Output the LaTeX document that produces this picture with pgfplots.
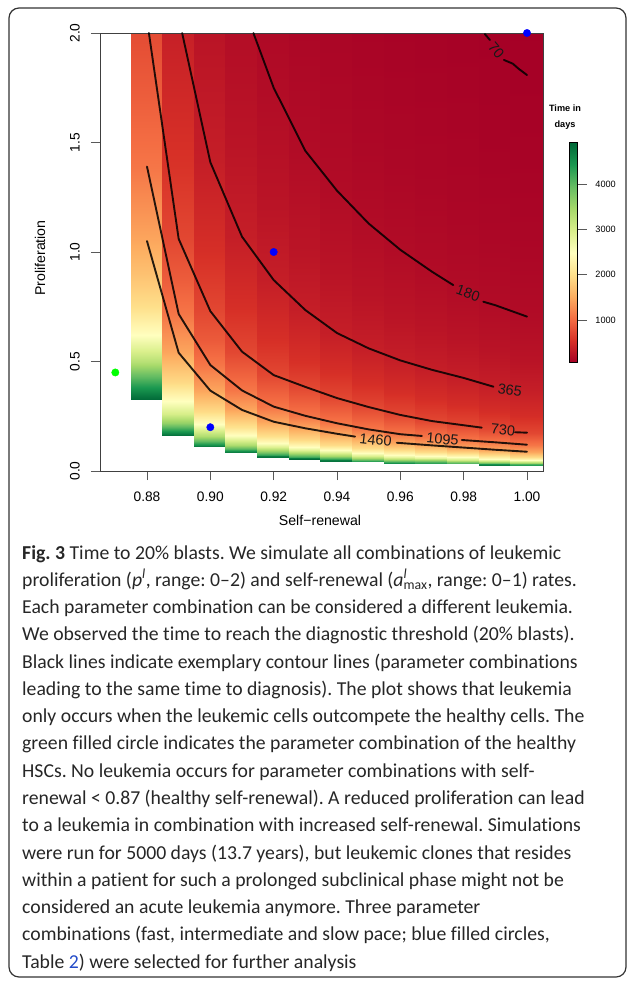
\documentclass[border=0pt]{standalone}
\usepackage{fontspec}
\setmainfont{Liberation Sans}
\newfontfamily\capfont[Ligatures={NoCommon}]{Carlito}
\usepackage{pgfplots}
\pgfplotsset{compat=1.18}
\pgfplotsset{colormap={rdylgn}{rgb255=(165,0,38) rgb255=(215,48,39) rgb255=(244,109,67) rgb255=(253,174,97) rgb255=(254,224,139) rgb255=(255,255,191) rgb255=(217,239,139) rgb255=(166,217,106) rgb255=(102,189,99) rgb255=(26,152,80) rgb255=(0,104,55)}}
\tikzset{cline/.style={black, line width=1.9bp, draw opacity=0.85, line join=round, line cap=round},
         clab/.style={font=\fontsize{14.5}{16}\selectfont, inner sep=0pt, text=black!90}}
\definecolor{linkblue}{RGB}{35,75,200}
\frenchspacing
\begin{document}
\begin{tikzpicture}
\useasboundingbox (0,0) rectangle (627bp,-983bp);
\draw[black!80, line width=1.2bp, rounded corners=10bp] (9bp,-8bp) rectangle (626bp,-977bp);

% ---------- heatmap ----------
\begin{axis}[at={(100bp,-471bp)}, anchor=south west, scale only axis,
  width=443bp, height=438bp,
  xmin=0.86516, xmax=1.00505, ymin=0, ymax=2, zmin=-1, zmax=1,
  view={0}{90}, hide axis,
  point meta min=60, point meta max=4910]
% column 0.88
\addplot3[surf, shader=interp, point meta=explicit] table[x=x, y=y, z expr=0, meta=t] {
x y t
0.875 0.325 4900
0.885 0.325 4900

0.875 0.34 4800
0.885 0.34 4800

0.875 0.385 4400
0.885 0.385 4400

0.875 0.44 3900
0.885 0.44 3900

0.875 0.50 3300
0.885 0.50 3300

0.875 0.55 2950
0.885 0.55 2950

0.875 0.62 2480
0.885 0.62 2480

0.875 0.75 2000
0.885 0.75 2000

0.875 0.90 1700
0.885 0.90 1700

0.875 1.05 1460
0.885 1.05 1460

0.875 1.39 1095
0.885 1.39 1095

0.875 1.70 910
0.885 1.70 910

0.875 2.0 765
0.885 2.0 765
};
% column 0.89
\addplot3[surf, shader=interp, point meta=explicit] table[x=x, y=y, z expr=0, meta=t] {
x y t
0.8847 0.161 4900
0.895 0.161 4900

0.8847 0.17 4700
0.895 0.17 4700

0.8847 0.19 4200
0.895 0.19 4200

0.8847 0.22 3600
0.895 0.22 3600

0.8847 0.26 3000
0.895 0.26 3000

0.8847 0.32 2480
0.895 0.32 2480

0.8847 0.40 1950
0.895 0.40 1950

0.8847 0.54 1460
0.895 0.54 1460

0.8847 0.717 1095
0.895 0.717 1095

0.8847 0.88 890
0.895 0.88 890

0.8847 1.06 730
0.895 1.06 730

0.8847 1.4 560
0.895 1.4 560

0.8847 2.0 385
0.895 2.0 385
};
% column 0.90
\addplot3[surf, shader=interp, point meta=explicit] table[x=x, y=y, z expr=0, meta=t] {
x y t
0.8947 0.111 4850
0.905 0.111 4850

0.8947 0.12 4500
0.905 0.12 4500

0.8947 0.135 3950
0.905 0.135 3950

0.8947 0.16 3350
0.905 0.16 3350

0.8947 0.19 2850
0.905 0.19 2850

0.8947 0.215 2480
0.905 0.215 2480

0.8947 0.27 1970
0.905 0.27 1970

0.8947 0.367 1460
0.905 0.367 1460

0.8947 0.484 1095
0.905 0.484 1095

0.8947 0.6 880
0.905 0.6 880

0.8947 0.73 730
0.905 0.73 730

0.8947 1.0 530
0.905 1.0 530

0.8947 1.41 365
0.905 1.41 365

0.8947 2.0 260
0.905 2.0 260
};
% column 0.91
\addplot3[surf, shader=interp, point meta=explicit] table[x=x, y=y, z expr=0, meta=t] {
x y t
0.9047 0.084 4850
0.915 0.084 4850

0.9047 0.09 4500
0.915 0.09 4500

0.9047 0.10 4050
0.915 0.10 4050

0.9047 0.12 3380
0.915 0.12 3380

0.9047 0.14 2900
0.915 0.14 2900

0.9047 0.165 2460
0.915 0.165 2460

0.9047 0.20 2030
0.915 0.20 2030

0.9047 0.28 1460
0.915 0.28 1460

0.9047 0.368 1095
0.915 0.368 1095

0.9047 0.545 730
0.915 0.545 730

0.9047 0.75 530
0.915 0.75 530

0.9047 1.07 365
0.915 1.07 365

0.9047 1.5 262
0.915 1.5 262

0.9047 2.0 197
0.915 2.0 197
};
% column 0.92
\addplot3[surf, shader=interp, point meta=explicit] table[x=x, y=y, z expr=0, meta=t] {
x y t
0.9147 0.061 4900
0.925 0.061 4900

0.9147 0.068 4700
0.925 0.068 4700

0.9147 0.075 4270
0.925 0.075 4270

0.9147 0.09 3560
0.925 0.09 3560

0.9147 0.11 2920
0.925 0.11 2920

0.9147 0.13 2470
0.925 0.13 2470

0.9147 0.16 2000
0.925 0.16 2000

0.9147 0.225 1460
0.925 0.225 1460

0.9147 0.294 1095
0.925 0.294 1095

0.9147 0.438 730
0.925 0.438 730

0.9147 0.6 535
0.925 0.6 535

0.9147 0.872 365
0.925 0.872 365

0.9147 1.2 265
0.925 1.2 265

0.9147 1.75 180
0.925 1.75 180

0.9147 2.0 158
0.925 2.0 158
};
% column 0.93
\addplot3[surf, shader=interp, point meta=explicit] table[x=x, y=y, z expr=0, meta=t] {
x y t
0.9247 0.053 4900
0.935 0.053 4900

0.9247 0.058 4700
0.935 0.058 4700

0.9247 0.065 4200
0.935 0.065 4200

0.9247 0.08 3400
0.935 0.08 3400

0.9247 0.095 2870
0.935 0.095 2870

0.9247 0.11 2480
0.935 0.11 2480

0.9247 0.14 1950
0.935 0.14 1950

0.9247 0.195 1460
0.935 0.195 1460

0.9247 0.252 1095
0.935 0.252 1095

0.9247 0.384 730
0.935 0.384 730

0.9247 0.5 545
0.935 0.5 545

0.9247 0.735 365
0.935 0.735 365

0.9247 1.0 270
0.935 1.0 270

0.9247 1.462 180
0.935 1.462 180

0.9247 2.0 133
0.935 2.0 133
};
% column 0.94
\addplot3[surf, shader=interp, point meta=explicit] table[x=x, y=y, z expr=0, meta=t] {
x y t
0.9347 0.042 4900
0.945 0.042 4900

0.9347 0.048 4700
0.945 0.048 4700

0.9347 0.055 4270
0.945 0.055 4270

0.9347 0.068 3460
0.945 0.068 3460

0.9347 0.08 2940
0.945 0.08 2940

0.9347 0.095 2480
0.945 0.095 2480

0.9347 0.12 1960
0.945 0.12 1960

0.9347 0.17 1460
0.945 0.17 1460

0.9347 0.218 1095
0.945 0.218 1095

0.9347 0.333 730
0.945 0.333 730

0.9347 0.45 530
0.945 0.45 530

0.9347 0.63 365
0.945 0.63 365

0.9347 0.9 258
0.945 0.9 258

0.9347 1.28 180
0.945 1.28 180

0.9347 2.0 115
0.945 2.0 115
};
% column 0.95
\addplot3[surf, shader=interp, point meta=explicit] table[x=x, y=y, z expr=0, meta=t] {
x y t
0.9447 0.044 4300
0.955 0.044 4300

0.9447 0.05 4000
0.955 0.05 4000

0.9447 0.06 3400
0.955 0.06 3400

0.9447 0.07 2950
0.955 0.07 2950

0.9447 0.083 2480
0.955 0.083 2480

0.9447 0.105 1960
0.955 0.105 1960

0.9447 0.15 1460
0.955 0.15 1460

0.9447 0.19 1095
0.955 0.19 1095

0.9447 0.292 730
0.955 0.292 730

0.9447 0.4 520
0.955 0.4 520

0.9447 0.56 365
0.955 0.56 365

0.9447 0.8 258
0.955 0.8 258

0.9447 1.13 180
0.955 1.13 180

0.9447 1.5 136
0.955 1.5 136

0.9447 2.0 103
0.955 2.0 103
};
% column 0.96
\addplot3[surf, shader=interp, point meta=explicit] table[x=x, y=y, z expr=0, meta=t] {
x y t
0.9547 0.033 4900
0.965 0.033 4900

0.9547 0.038 4500
0.965 0.038 4500

0.9547 0.045 3900
0.965 0.045 3900

0.9547 0.055 3250
0.965 0.055 3250

0.9547 0.065 2800
0.965 0.065 2800

0.9547 0.075 2480
0.965 0.075 2480

0.9547 0.095 1960
0.965 0.095 1960

0.9547 0.129 1460
0.965 0.129 1460

0.9547 0.168 1095
0.965 0.168 1095

0.9547 0.256 730
0.965 0.256 730

0.9547 0.36 520
0.965 0.36 520

0.9547 0.505 365
0.965 0.505 365

0.9547 0.7 265
0.965 0.7 265

0.9547 1.01 180
0.965 1.01 180

0.9547 1.4 130
0.965 1.4 130

0.9547 2.0 93
0.965 2.0 93
};
% column 0.97
\addplot3[surf, shader=interp, point meta=explicit] table[x=x, y=y, z expr=0, meta=t] {
x y t
0.9647 0.033 4500
0.975 0.033 4500

0.9647 0.04 4100
0.975 0.04 4100

0.9647 0.048 3500
0.975 0.048 3500

0.9647 0.06 2830
0.975 0.06 2830

0.9647 0.068 2480
0.975 0.068 2480

0.9647 0.087 1960
0.975 0.087 1960

0.9647 0.117 1460
0.975 0.117 1460

0.9647 0.157 1095
0.975 0.157 1095

0.9647 0.228 730
0.975 0.228 730

0.9647 0.33 515
0.975 0.33 515

0.9647 0.462 365
0.975 0.462 365

0.9647 0.65 262
0.975 0.65 262

0.9647 0.91 180
0.975 0.91 180

0.9647 1.3 128
0.975 1.3 128

0.9647 2.0 84
0.975 2.0 84
};
% column 0.98
\addplot3[surf, shader=interp, point meta=explicit] table[x=x, y=y, z expr=0, meta=t] {
x y t
0.9747 0.033 4300
0.985 0.033 4300

0.9747 0.04 3750
0.985 0.04 3750

0.9747 0.05 3050
0.985 0.05 3050

0.9747 0.062 2480
0.985 0.062 2480

0.9747 0.08 1940
0.985 0.08 1940

0.9747 0.107 1460
0.985 0.107 1460

0.9747 0.141 1095
0.985 0.141 1095

0.9747 0.209 730
0.985 0.209 730

0.9747 0.3 515
0.985 0.3 515

0.9747 0.425 365
0.985 0.425 365

0.9747 0.6 258
0.985 0.6 258

0.9747 0.82 180
0.985 0.82 180

0.9747 1.2 125
0.985 1.2 125

0.9747 2.0 76
0.985 2.0 76
};
% column 0.99
\addplot3[surf, shader=interp, point meta=explicit] table[x=x, y=y, z expr=0, meta=t] {
x y t
0.9847 0.024 4900
0.995 0.024 4900

0.9847 0.03 4500
0.995 0.03 4500

0.9847 0.036 3850
0.995 0.036 3850

0.9847 0.045 3100
0.995 0.045 3100

0.9847 0.056 2480
0.995 0.056 2480

0.9847 0.072 1950
0.995 0.072 1950

0.9847 0.097 1460
0.995 0.097 1460

0.9847 0.131 1095
0.995 0.131 1095

0.9847 0.19 730
0.995 0.19 730

0.9847 0.27 520
0.995 0.27 520

0.9847 0.39 365
0.995 0.39 365

0.9847 0.55 255
0.995 0.55 255

0.9847 0.757 180
0.995 0.757 180

0.9847 1.1 126
0.995 1.1 126

0.9847 1.5 92
0.995 1.5 92

0.9847 2.0 70
0.995 2.0 70
};
% column 1.00
\addplot3[surf, shader=interp, point meta=explicit] table[x=x, y=y, z expr=0, meta=t] {
x y t
0.9947 0.024 4600
1.005 0.024 4600

0.9947 0.03 4100
1.005 0.03 4100

0.9947 0.036 3500
1.005 0.036 3500

0.9947 0.045 2830
1.005 0.045 2830

0.9947 0.052 2480
1.005 0.052 2480

0.9947 0.066 1950
1.005 0.066 1950

0.9947 0.088 1460
1.005 0.088 1460

0.9947 0.12 1095
1.005 0.12 1095

0.9947 0.175 730
1.005 0.175 730

0.9947 0.25 515
1.005 0.25 515

0.9947 0.37 365
1.005 0.37 365

0.9947 0.5 258
1.005 0.5 258

0.9947 0.705 180
1.005 0.705 180

0.9947 1.0 128
1.005 1.0 128

0.9947 1.4 92
1.005 1.4 92

0.9947 1.81 70
1.005 1.81 70

0.9947 2.0 64
1.005 2.0 64
};
\end{axis}

% ---------- axes, contours, points, colour key ----------
\begin{axis}[at={(100bp,-471bp)}, anchor=south west, scale only axis,
  width=443bp, height=438bp,
  xmin=0.86516, xmax=1.00505, ymin=0, ymax=2,
  clip=false,
  axis line style={draw=black!75, line width=0.8bp},
  tick align=outside, major tick length=9bp,
  tick style={draw=black!65, line width=0.8bp},
  xtick={0.88,0.90,0.92,0.94,0.96,0.98,1.00},
  xticklabels={0.88,0.90,0.92,0.94,0.96,0.98,1.00},
  ytick={0,0.5,1,1.5,2},
  yticklabels={0.0,0.5,1.0,1.5,2.0},
  xtick pos=left, ytick pos=left,
  ticklabel style={font=\fontsize{13.8}{16}\selectfont, inner sep=0pt},
  xticklabel style={anchor=north},
  yticklabel style={rotate=90, anchor=south},
  xticklabel shift=11.5bp, yticklabel shift=11bp,
  xlabel={Self−renewal}, ylabel={Proliferation},
  label style={font=\fontsize{14.2}{16}\selectfont},
  xlabel style={at={(axis description cs:0.4966,-0.1119)}, anchor=center},
  ylabel style={at={(axis description cs:-0.1354,0.4863)}, anchor=center},
  point meta min=60, point meta max=4910,
  colorbar,
  colorbar style={at={(parent axis.north east)}, anchor=north west,
    xshift=17.7bp, yshift=-109.7bp, scale only axis,
    width=8.6bp, height=220bp,
    ytick={1000,2000,3000,4000}, yticklabels={1000,2000,3000,4000},
    ytick pos=right, yticklabel pos=right,
    tick align=outside, major tick length=9bp,
    tick style={draw=black!65, line width=0.8bp},
    axis line style={draw=black, line width=0.8bp},
    yticklabel style={font=\fontsize{9.2}{11}\selectfont, anchor=west, inner sep=0pt},
    yticklabel shift=8.4bp}
]
% contour 1460
\addplot[cline] coordinates {(0.88,1.05) (0.89,0.54) (0.90,0.367) (0.91,0.279) (0.92,0.225) (0.93,0.195) (0.94,0.170) (0.9457,0.157)};
\addplot[cline] coordinates {(0.9589,0.129) (0.97,0.117) (0.98,0.107) (0.99,0.097) (1.00,0.088)};
% contour 1095
\addplot[cline] coordinates {(0.88,1.39) (0.89,0.717) (0.90,0.484) (0.91,0.368) (0.92,0.294) (0.93,0.252) (0.94,0.218) (0.95,0.19) (0.96,0.168) (0.9668,0.160)};
\addplot[cline] coordinates {(0.9794,0.1416) (0.99,0.131) (1.00,0.120)};
% contour 730
\addplot[cline] coordinates {(0.8806,2.0) (0.89,1.06) (0.90,0.73) (0.91,0.545) (0.92,0.438) (0.93,0.384) (0.94,0.333) (0.95,0.292) (0.96,0.256) (0.97,0.228) (0.98,0.209) (0.9857,0.198)};
\addplot[cline] coordinates {(0.9962,0.177) (1.00,0.175)};
% contour 365
\addplot[cline] coordinates {(0.8911,2.0) (0.90,1.41) (0.91,1.07) (0.92,0.872) (0.93,0.735) (0.94,0.63) (0.95,0.56) (0.96,0.505) (0.97,0.462) (0.98,0.425) (0.9894,0.385)};
% contour 180
\addplot[cline] coordinates {(0.9136,2.0) (0.92,1.75) (0.93,1.462) (0.94,1.28) (0.95,1.13) (0.96,1.01) (0.97,0.91) (0.9767,0.849)};
\addplot[cline] coordinates {(0.9862,0.773) (0.99,0.757) (1.00,0.705)};
% contour 70
\addplot[cline] coordinates {(0.9867,1.995) (0.9883,1.968)};
\addplot[cline] coordinates {(0.9927,1.877) (0.9955,1.86) (0.9975,1.835) (1.00,1.808)};
% contour labels
\node[clab, rotate=-50] at (axis cs:0.9903,1.92) {70};
\node[clab, rotate=-20] at (axis cs:0.9814,0.812) {180};
\node[clab, rotate=-8] at (axis cs:0.9946,0.368) {365};
\node[clab, rotate=-5] at (axis cs:0.9924,0.187) {730};
\node[clab, rotate=-5] at (axis cs:0.9733,0.1447) {1095};
\node[clab, rotate=-6] at (axis cs:0.9522,0.1416) {1460};
% parameter combinations
\addplot[only marks, mark=*, mark size=3.7bp, mark options={draw=blue, fill=blue}] coordinates {(0.90,0.2) (0.92,1.0) (1.00,2.0)};
\addplot[only marks, mark=*, mark size=3.7bp, mark options={draw=green, fill=green}] coordinates {(0.87,0.45)};
\end{axis}

\node[font=\bfseries\fontsize{9.2}{11}\selectfont] at (565bp,-108bp) {Time in};
\node[font=\bfseries\fontsize{9.2}{11}\selectfont] at (565bp,-125bp) {days};

% ---------- caption ----------
\begin{scope}[every node/.style={anchor=base west, inner sep=0pt, font=\capfont\fontsize{19.8}{22}\selectfont, text=black!85}]
\node at (22bp,-559bp) {\textbf{Fig. 3} Time to 20\% blasts. We simulate all combinations of leukemic};
\node at (22bp,-586.3bp) {proliferation (\textit{p}\textsuperscript{\textit{l}}, range: 0–2) and self-renewal (\textit{a}\rlap{\textsuperscript{\textit{l}}}\textsubscript{max}, range: 0–1) rates.};
\node at (22bp,-613.5bp) {Each parameter combination can be considered a different leukemia.};
\node at (22bp,-640.8bp) {We observed the time to reach the diagnostic threshold (20\% blasts).};
\node at (22bp,-668.1bp) {Black lines indicate exemplary contour lines (parameter combinations};
\node at (22bp,-695.4bp) {leading to the same time to diagnosis). The plot shows that leukemia};
\node at (22bp,-722.6bp) {only occurs when the leukemic cells outcompete the healthy cells. The};
\node at (22bp,-749.9bp) {green filled circle indicates the parameter combination of the healthy};
\node at (22bp,-777.2bp) {HSCs. No leukemia occurs for parameter combinations with self-};
\node at (22bp,-804.4bp) {renewal < 0.87 (healthy self-renewal). A reduced proliferation can lead};
\node at (22bp,-831.7bp) {to a leukemia in combination with increased self-renewal. Simulations};
\node at (22bp,-859bp) {were run for 5000 days (13.7 years), but leukemic clones that resides};
\node at (22bp,-886.2bp) {within a patient for such a prolonged subclinical phase might not be};
\node at (22bp,-913.5bp) {considered an acute leukemia anymore. Three parameter};
\node at (22bp,-940.8bp) {combinations (fast, intermediate and slow pace; blue filled circles,};
\node at (22bp,-968bp) {Table \textcolor{linkblue}{2}) were selected for further analysis};
\end{scope}
\end{tikzpicture}
\end{document}
